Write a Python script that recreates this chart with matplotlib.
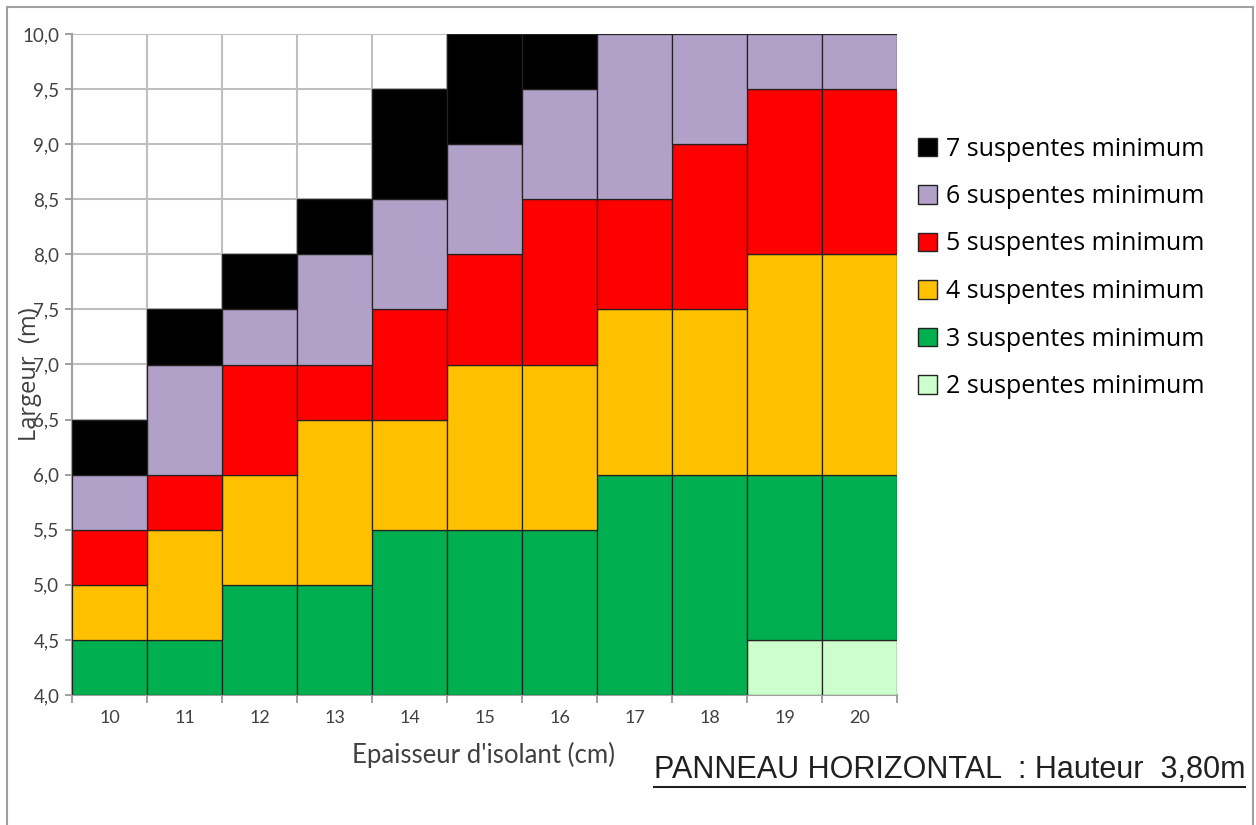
import numpy as np
import matplotlib
matplotlib.use("Agg")
import matplotlib.pyplot as plt
from matplotlib.patches import Patch, Rectangle
from matplotlib.lines import Line2D

# epaisseur d'isolant (cm)
epaisseur = [10, 11, 12, 13, 14, 15, 16, 17, 18, 19, 20]

# hauteur de chaque tranche (m), empilee a partir de 4,0 m
h2 = [0, 0, 0, 0, 0, 0, 0, 0, 0, 0.5, 0.5]
h3 = [0.5, 0.5, 1.0, 1.0, 1.5, 1.5, 1.5, 2.0, 2.0, 1.5, 1.5]
h4 = [0.5, 1.0, 1.0, 1.5, 1.0, 1.5, 1.5, 1.5, 1.5, 2.0, 2.0]
h5 = [0.5, 0.5, 1.0, 0.5, 1.0, 1.0, 1.5, 1.0, 1.5, 1.5, 1.5]
h6 = [0.5, 1.0, 0.5, 1.0, 1.0, 1.0, 1.0, 1.5, 1.0, 0.5, 0.5]
h7 = [0.5, 0.5, 0.5, 0.5, 1.0, 1.0, 0.5, 0, 0, 0, 0]

series = [h2, h3, h4, h5, h6, h7]
labels = ["2 suspentes minimum", "3 suspentes minimum", "4 suspentes minimum",
          "5 suspentes minimum", "6 suspentes minimum", "7 suspentes minimum"]
couleurs = ["#CCFFCC", "#00B050", "#FFC000", "#FF0000", "#B1A0C7", "#000000"]

yticks = np.arange(4.0, 10.01, 0.5)

fig = plt.figure(figsize=(12.56, 8.25), dpi=100)
ax = fig.add_axes([72/1256, 1-695/825, (897-72)/1256, (695-34)/825])

bas = np.full(len(epaisseur), 4.0)
for h, c in zip(series, couleurs):
    h = np.array(h)
    m = h > 0
    ax.bar(np.array(epaisseur)[m], h[m], bottom=bas[m], width=1.0, color=c,
           edgecolor="#222222", linewidth=0.9, zorder=3)
    bas = bas + h

ax.set_xlim(9.5, 20.5)
ax.set_ylim(4.0, 10.0)
ax.set_yticks(yticks)
ax.set_yticklabels([("%.1f" % v).replace(".", ",") for v in yticks],
                   fontsize=13.5, family="Lato", color="#404040")
ax.set_xticks(epaisseur)
ax.set_xticklabels([str(e) for e in epaisseur], fontsize=13, family="Lato", color="#404040")
ax.set_xticks(np.arange(9.5, 20.6, 1.0), minor=True)
ax.tick_params(axis="x", which="major", length=0, pad=11)
ax.tick_params(axis="x", which="minor", length=6, color="#909090", width=1.2)
ax.tick_params(axis="y", length=5, color="#909090", width=1.2, pad=4)

ax.grid(True, axis="y", which="major", color="#BFBFBF", linewidth=1.5, zorder=0)
ax.grid(True, axis="x", which="minor", color="#BFBFBF", linewidth=1.5, zorder=0)
ax.set_axisbelow(True)
for s in ["top", "right"]:
    ax.spines[s].set_visible(False)
ax.spines["left"].set_color("#A0A0A0")
ax.spines["left"].set_linewidth(1.5)
ax.spines["bottom"].set_color("#A0A0A0")
ax.spines["bottom"].set_linewidth(1.5)

ax.set_xlabel("Epaisseur d'isolant (cm)", fontsize=18.5, family="Lato", color="#404040")
ax.xaxis.set_label_coords((483-72)/825, -(755-695)/661)
ax.xaxis.label.set_va("center")
ax.set_ylabel("Largeur  (m)", fontsize=17, family="Open Sans", color="#404040")
ax.yaxis.set_label_coords(-(72-30)/825, 0.485)
ax.yaxis.label.set_va("center")

handles = [Patch(facecolor=c, edgecolor="#222222", linewidth=1.0, label=l)
           for c, l in zip(couleurs[::-1], labels[::-1])]
fig.legend(handles=handles, loc="upper left", bbox_to_anchor=(896/1256, 1-114/825),
           frameon=False, handlelength=0.76, handleheight=0.76,
           handletextpad=0.35, labelspacing=0.9, prop={"family": "Open Sans", "size": 18})

t = fig.text(1245/1256, 1-770/825, "PANNEAU HORIZONTAL  : Hauteur  3,80m",
             ha="right", va="center", fontsize=22, family="Liberation Sans", color="#202020")
fig.canvas.draw()
bb = t.get_window_extent().transformed(fig.transFigure.inverted())
fig.add_artist(Line2D([bb.x0, bb.x1], [bb.y0 - 0.002, bb.y0 - 0.002],
                      transform=fig.transFigure, color="#202020", linewidth=1.5))

fig.add_artist(Rectangle((7/1256, -0.05), (1253-7)/1256, 1.05 - 7/825,
                         transform=fig.transFigure, fill=False,
                         edgecolor="#A0A0A0", linewidth=1.5))

fig.savefig("out.png", dpi=100)
